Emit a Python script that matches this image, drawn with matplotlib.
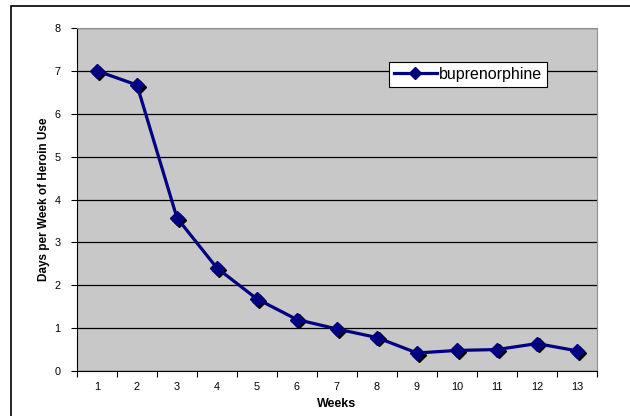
import matplotlib
matplotlib.use("Agg")
import matplotlib.pyplot as plt
from matplotlib.transforms import ScaledTranslation
from matplotlib.patches import Rectangle

weeks = list(range(1, 14))
week_labels = [str(w) for w in weeks]
buprenorphine = [7.0, 6.67, 3.57, 2.4, 1.68, 1.2, 0.98, 0.78, 0.42, 0.48, 0.5, 0.64, 0.47]
y_ticks = [0, 1, 2, 3, 4, 5, 6, 7, 8]

plt.rcParams['font.family'] = ['Liberation Sans', 'DejaVu Sans']

fig = plt.figure(figsize=(6.3, 4.16), dpi=100)
ax = fig.add_axes([77/630, 1 - 371/416, 520/630, 343/416])
ax.set_facecolor('#C8C8C8')

navy = '#000080'
shadow = ax.transData + ScaledTranslation(1.3/72, -1.3/72, fig.dpi_scale_trans)
ax.plot(weeks, buprenorphine, linestyle='none', marker='D', markersize=7.5,
        color='black', transform=shadow, zorder=3)
ax.plot(weeks, buprenorphine, color=navy, linewidth=2.3, marker='D',
        markersize=7.5, markerfacecolor=navy, markeredgecolor=navy,
        label='buprenorphine', zorder=4)

ax.set_xlim(0.5, 13.5)
ax.set_ylim(0, 8)
ax.set_yticks(y_ticks)
ax.set_yticklabels([str(t) for t in y_ticks], fontsize=7.8)
ax.yaxis.grid(True, color='black', linewidth=0.9)
ax.set_axisbelow(True)

ax.set_xticks([w + 0.5 for w in range(0, 14)])
ax.set_xticklabels([])
ax.set_xticks(weeks, minor=True)
ax.set_xticklabels(week_labels, minor=True, fontsize=7.8)
ax.tick_params(axis='x', which='major', length=4, direction='out', color='black')
ax.tick_params(axis='x', which='minor', length=0, pad=8)
ax.tick_params(axis='y', length=4, direction='out', pad=8)

for s in ['top', 'right']:
    ax.spines[s].set_color('#909090')
for s in ['left', 'bottom']:
    ax.spines[s].set_color('black')

ax.set_xlabel('Weeks', fontsize=9, fontweight='bold', labelpad=4)
ax.set_ylabel('Days per Week of Heroin Use', fontsize=8.5, fontweight='bold', labelpad=3)

leg = ax.legend(loc='upper right', bbox_to_anchor=(0.904, 0.901), fontsize=11.5,
                frameon=True, fancybox=False, framealpha=1, edgecolor='black',
                handlelength=2.7, borderpad=0.3, handletextpad=0.15,
                borderaxespad=0, markerscale=0.8)
leg.get_frame().set_linewidth(0.8)

border = Rectangle((10.5/630, -0.05), 1.0, 1 - 6/416 + 0.05, transform=fig.transFigure,
                   fill=False, edgecolor='black', linewidth=1.2, clip_on=False)
fig.patches.append(border)

fig.savefig('out.png', dpi=100)
